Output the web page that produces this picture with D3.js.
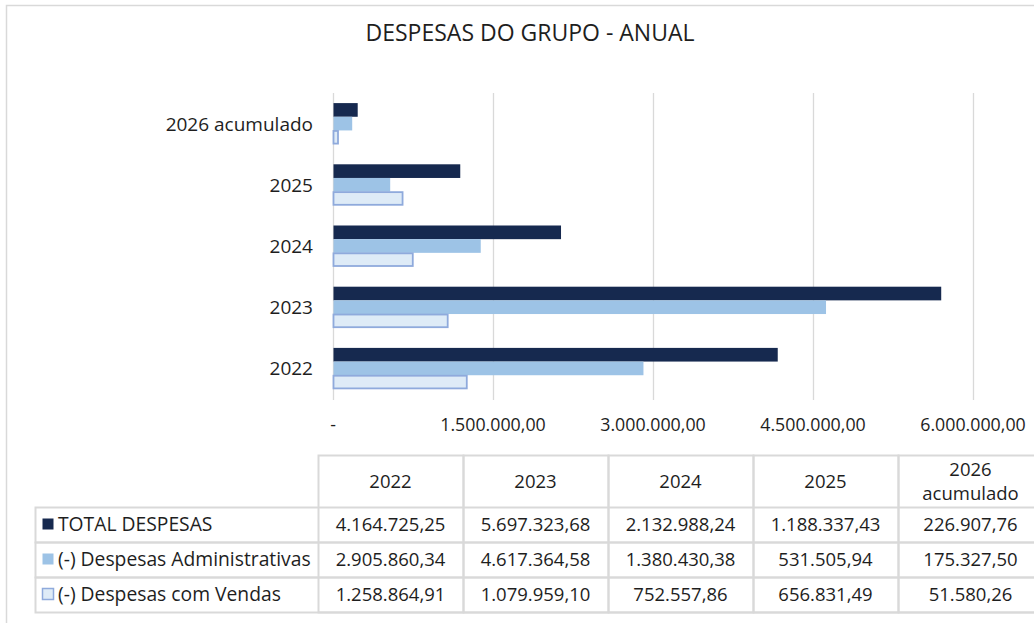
<!DOCTYPE html>
<html>
<head>
  <meta charset="utf-8">
  <title>Despesas do Grupo - Anual</title>
  <script src="https://cdn.jsdelivr.net/npm/d3@7"></script>
  <style>
    body { margin: 0; background: #fff; }
    svg text { font-family: "Open Sans", Lato, sans-serif; fill: #1e1e1e; }
  </style>
</head>
<body>
<div id="container"></div>
<script>
  // data
  var years = ["2022", "2023", "2024", "2025", "2026 acumulado"];
  var seriesNames = ["TOTAL DESPESAS", "(-) Despesas Administrativas", "(-) Despesas com Vendas"];
  var totalDespesas = [4164725.25, 5697323.68, 2132988.24, 1188337.43, 226907.76];
  var despAdmin = [2905860.34, 4617364.58, 1380430.38, 531505.94, 175327.50];
  var despVendas = [1258864.91, 1079959.10, 752557.86, 656831.49, 51580.26];
  var xTicks = [0, 1500000, 3000000, 4500000, 6000000];

  var fills = ["#16294f", "#9dc3e6", "#deebf7"];
  var strokes = ["none", "none", "#8faadc"];
  var seriesValues = [totalDespesas, despAdmin, despVendas];

  var W = 1034, H = 623;
  var svg = d3.select("#container").append("svg").attr("width", W).attr("height", H);

  var loc = d3.formatLocale({decimal: ",", thousands: ".", grouping: [3], currency: ["", ""]});
  var fmt = loc.format(",.2f");

  // chart frame
  svg.append("path").attr("d", "M6.5,623V5.5H1040")
    .attr("fill", "none").attr("stroke", "#d9d9d9").attr("stroke-width", 1.5);

  svg.append("text").attr("x", 530).attr("y", 41).attr("text-anchor", "middle")
    .style("font-size", "23px").text("DESPESAS DO GRUPO - ANUAL");

  var x = d3.scaleLinear().domain([0, 6000000]).range([333, 973]);
  // top category is the last one
  var y = d3.scaleBand().domain(years.slice().reverse()).range([93, 399]).paddingInner(0.33).paddingOuter(0.165);
  var ySub = d3.scaleBand().domain(d3.range(3)).range([0, y.bandwidth()]);

  // gridlines
  svg.append("g").selectAll("line").data(xTicks).join("line")
    .attr("x1", d => x(d) + 0.5).attr("x2", d => x(d) + 0.5)
    .attr("y1", 93).attr("y2", 400)
    .attr("stroke", "#d9d9d9").attr("stroke-width", 1.3);

  svg.append("g").selectAll("text").data(xTicks).join("text")
    .attr("x", d => x(d)).attr("y", 431).attr("text-anchor", "middle")
    .style("font-size", "17.8px")
    .text(d => d === 0 ? "-" : fmt(d));

  // bars
  var bars = svg.append("g");
  seriesValues.forEach(function(vals, s) {
    bars.append("g").selectAll("rect").data(vals).join("rect")
      .attr("x", x(0) + 0.5)
      .attr("y", (d, i) => y(years[i]) + ySub(s) + (s == 2 ? 0.5 : 0))
      .attr("width", d => x(d) - x(0) - (s == 2 ? 1 : 0))
      .attr("height", ySub.bandwidth() - (s == 2 ? 1 : 0))
      .attr("fill", fills[s])
      .attr("stroke", strokes[s]).attr("stroke-width", 1.8);
  });

  svg.append("g").selectAll("text").data(years).join("text")
    .attr("x", 313).attr("y", d => y(d) + y.bandwidth() / 2 + 7)
    .attr("text-anchor", "end").style("font-size", "19px")
    .text(d => d);

  // data table
  var colX = [318, 463, 608, 753, 898, 1043];
  var rowY = [455, 507, 542, 577, 612];
  var tbl = svg.append("g");
  var grid = "#d9d9d9";
  // header cells
  for (var c = 0; c < 5; c++) {
    tbl.append("rect").attr("x", colX[c] + 0.5).attr("y", rowY[0] + 0.5)
      .attr("width", colX[c + 1] - colX[c]).attr("height", rowY[4] - rowY[0])
      .attr("fill", "none").attr("stroke", grid).attr("stroke-width", 2);
  }
  for (var r = 1; r < 4; r++) {
    tbl.append("rect").attr("x", 35.5).attr("y", rowY[r] + 0.5)
      .attr("width", colX[5] - 35).attr("height", rowY[r + 1] - rowY[r])
      .attr("fill", "none").attr("stroke", grid).attr("stroke-width", 2);
  }

  years.forEach(function(yr, c) {
    var cx = (colX[c] + colX[c + 1]) / 2;
    var t = tbl.append("text").attr("text-anchor", "middle").style("font-size", "18.5px");
    var parts = yr.split(" ");
    if (parts.length == 1) {
      t.attr("x", cx).attr("y", 488).text(yr);
    } else {
      t.append("tspan").attr("x", cx).attr("y", 476).text(parts[0]);
      t.append("tspan").attr("x", cx).attr("y", 500).text(parts[1]);
    }
  });

  seriesNames.forEach(function(name, s) {
    var ry = rowY[s + 1];
    tbl.append("rect").attr("x", 42.5).attr("y", ry + 11.5).attr("width", 11).attr("height", 11)
      .attr("fill", fills[s]).attr("stroke", s == 2 ? strokes[s] : "none").attr("stroke-width", 1.5);
    tbl.append("text").attr("x", 58).attr("y", ry + 24).style("font-size", "19.3px").text(name);
    seriesValues[s].forEach(function(v, c) {
      tbl.append("text").attr("x", (colX[c] + colX[c + 1]) / 2).attr("y", ry + 24)
        .attr("text-anchor", "middle").style("font-size", "18.5px").text(fmt(v));
    });
  });
</script>
</body>
</html>
